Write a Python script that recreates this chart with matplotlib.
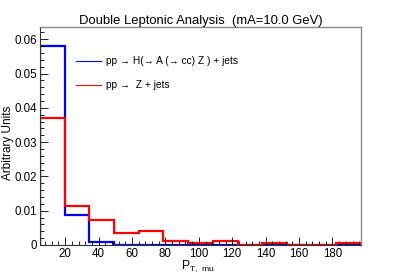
import matplotlib
matplotlib.use("Agg")
import matplotlib.pyplot as plt
from matplotlib.ticker import MultipleLocator
from matplotlib.lines import Line2D
import numpy as np

plt.rcParams['font.family'] = ['Liberation Sans', 'DejaVu Sans']

# bin edges: 13 bins between 5 and 197
edges = np.linspace(5, 197, 14)

# signal: pp -> H(-> A(-> cc) Z) + jets
sig = [0.058, 0.0088, 0.0010, 0.0, 0.0, 0.0, 0.0, 0.0, 0.0, 0.0002, 0.0, 0.0, 0.0001]
# background: pp -> Z + jets
bkg = [0.037, 0.0115, 0.0072, 0.0035, 0.0041, 0.0012, 0.0006, 0.0012, 0.0, 0.0005, 0.0, 0.0, 0.0005]

labels = ['pp \u2192 H(\u2192 A (\u2192 cc) Z ) + jets',
          'pp \u2192  Z + jets']

fig = plt.figure(figsize=(4.01, 2.73), dpi=100)
ax = fig.add_axes([0.1, 0.1026, 0.8, 0.7985])

ax.stairs(sig, edges, color='#0000ff', lw=1.6)
ax.stairs(bkg, edges, color='#ff0000', lw=1.6)

ax.set_xlim(5, 197)
ax.set_ylim(0, 0.0636)

ax.xaxis.set_major_locator(MultipleLocator(20))
ax.xaxis.set_minor_locator(MultipleLocator(4))
ax.yaxis.set_minor_locator(MultipleLocator(0.002))
ax.tick_params(which='both', direction='in', top=False, right=False, labelsize=8.3, pad=2)
ax.tick_params(which='major', length=6, width=0.6)
ax.tick_params(which='minor', length=3, width=0.6)
ax.set_yticks([0, 0.01, 0.02, 0.03, 0.04, 0.05, 0.06])
ax.set_yticklabels(['0', '0.01', '0.02', '0.03', '0.04', '0.05', '0.06'])

for s in ['left', 'bottom']:
    ax.spines[s].set_linewidth(0.8)
    ax.spines[s].set_color('#333333')
for s in ['top', 'right']:
    ax.spines[s].set_linewidth(1.0)
    ax.spines[s].set_color('#888888')

ax.set_ylabel('Arbitrary Units', fontsize=8.5)
ax.yaxis.set_label_coords(-0.082, 0.47)
ax.set_xlabel(r'P$_{\mathregular{T,\ mu}}$', fontsize=8.7)
ax.xaxis.set_label_coords(0.49, -0.062)
ax.set_title('Double Leptonic Analysis  (mA=10.0 GeV)', fontsize=9.4, pad=2)

h1 = Line2D([], [], color='#0000ff', lw=0.8)
h2 = Line2D([], [], color='#ff0000', lw=0.8)
ax.legend([h1, h2], labels, loc='upper left', bbox_to_anchor=(0.1, 0.885),
          frameon=False, fontsize=7.3, handlelength=2.4, handletextpad=0.5,
          labelspacing=1.4, borderaxespad=0)

fig.savefig('out.png', dpi=100)
